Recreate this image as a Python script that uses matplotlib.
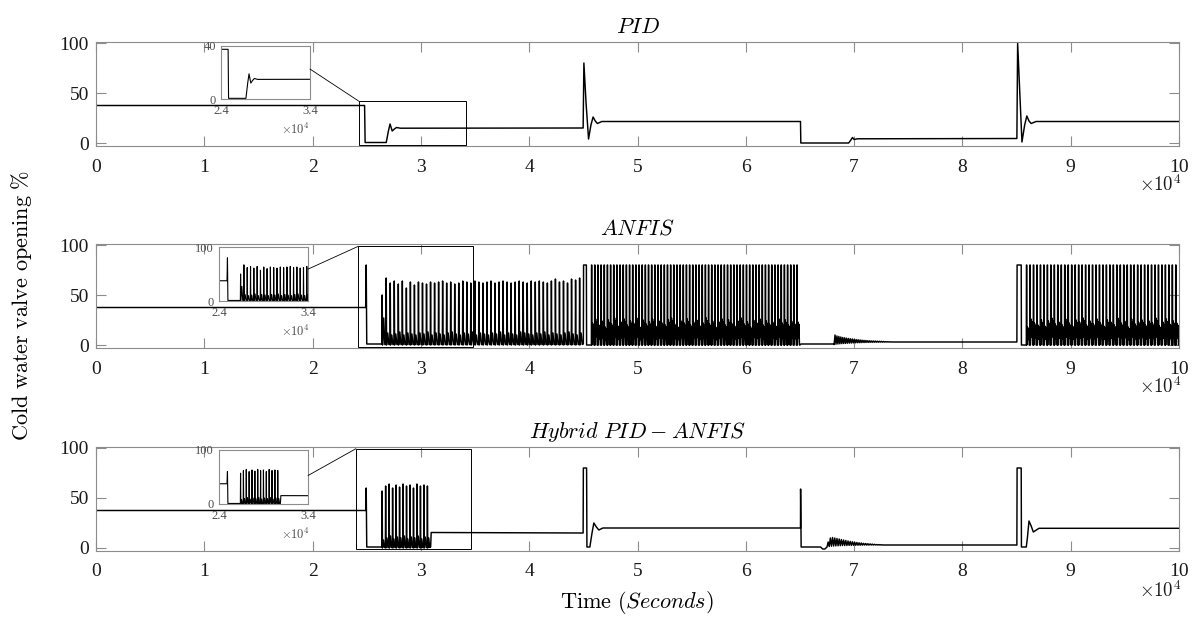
import numpy as np
import matplotlib
matplotlib.use('Agg')
import matplotlib.pyplot as plt
from matplotlib.patches import Rectangle, ConnectionPatch

plt.rcParams['mathtext.fontset'] = 'cm'
plt.rcParams['font.family'] = ['Liberation Serif', 'DejaVu Serif']

# ---------------- data ----------------
x_ticks = [0, 1e4, 2e4, 3e4, 4e4, 5e4, 6e4, 7e4, 8e4, 9e4, 1e5]
x_tick_labels = ['0', '1', '2', '3', '4', '5', '6', '7', '8', '9', '10']
y_ticks = [0, 50, 100]
titles = [r'$PID$', r'$ANFIS$', r'$Hybrid\ PID-ANFIS$']

# PID response (breakpoints)
pid_t = [0, 24800, 24850, 26800, 27000, 27150, 27350, 27550, 27750, 28100,
         44980, 45050, 45250, 45480, 45700, 45900, 46100, 46300, 46700,
         65050, 65080, 69500, 69700, 69850, 70000, 70300,
         85030, 85100, 85300, 85500, 85750, 85950, 86150, 86350, 86800, 100000]
pid_v = [37.5, 37.5, 0.5, 0.5, 12, 19, 12, 14, 15.5, 14.8,
         15, 80, 40, 4, 18, 26, 22, 19.5, 21.5,
         21.5, 0, 0, 3, 5.5, 3.5, 4.2,
         4.5, 100, 50, 1, 18, 27, 22, 19.5, 21.5, 21.5]

# ANFIS response
anfis_pre_t = [0, 24900, 24950, 25000, 26400]
anfis_pre_v = [37.5, 37.5, 80, 1, 1]
anfis_r1_span = [26400, 45000]
anfis_r1_peaks = [50, 67, 62, 64, 61, 64, 57, 63, 60, 63,
                  62, 61, 63, 62, 63, 64, 62, 63, 61, 62,
                  64, 63, 62, 64, 63, 62, 63, 64, 62, 63,
                  64, 63, 62, 63, 64, 63, 62, 64, 63, 64,
                  63, 62, 64, 66, 63, 64, 62, 66, 65, 67]
anfis_r1_sec = [27, 12, 10, 11, 13, 10, 12, 11, 10, 12,
                11, 13, 10, 12, 11, 10, 12, 13, 11, 10,
                12, 11, 13, 10, 12, 11, 10, 12, 11, 13,
                10, 12, 11, 10, 13, 12, 11, 10, 12, 11,
                13, 10, 12, 11, 10, 12, 13, 11, 10, 12]
anfis_mid1_t = [45000, 45020, 45280, 45300, 45740]
anfis_mid1_v = [1, 80, 80, 0, 0]
anfis_sat = 80
anfis_r2_span = [45740, 65000]
anfis_r2_sec = [22, 26, 20, 24, 18, 25, 21, 27, 19, 23, 26,
                20, 24, 22, 27, 18, 25, 21, 23, 26, 19, 24,
                22, 20, 25, 27, 21, 18, 24, 22, 26, 20, 23,
                25, 19, 22, 27, 21, 24, 18, 23, 26, 20, 25,
                22, 19, 24, 27, 21, 23, 18, 25, 22, 26, 20,
                24, 21, 23, 19, 26, 22, 25, 20, 24, 21, 23]
anfis_mid2_t = [65000, 65100, 68150]
anfis_mid2_v = [0, 1, 1]
anfis_ring_span = [68150, 73500]
anfis_ring_peaks = [10, 9, 8.5, 8, 7.5, 7.2, 6.8, 6.5, 6.2, 6, 5.7, 5.4, 5.2, 5, 4.8,
                    4.6, 4.5, 4.3, 4.2, 4.1, 4, 3.9, 3.8, 3.7, 3.6, 3.5, 3.4, 3.3, 3.2, 3.1]
anfis_ring_troughs = [0.5, 0.8, 1, 1.2, 1.4, 1.5, 1.6, 1.8, 1.9, 2, 2.1, 2.2, 2.3, 2.3, 2.4,
                      2.5, 2.5, 2.6, 2.6, 2.7, 2.7, 2.8, 2.8, 2.8, 2.9, 2.9, 2.9, 3, 3, 3]
anfis_mid3_t = [73500, 85030, 85050, 85430, 85450, 85900]
anfis_mid3_v = [3, 3, 80, 80, 0, 0]
anfis_r3_span = [85900, 100000]
anfis_r3_sec = [18, 26, 22, 20, 25, 19, 24, 27, 21, 23, 20,
                26, 22, 19, 25, 23, 27, 20, 24, 21, 26, 22,
                19, 25, 23, 20, 27, 22, 24, 18, 26, 21, 23,
                25, 20, 24, 22, 27, 19, 23, 26, 21, 24, 22]

# Hybrid PID-ANFIS response
hyb_pre_t = [0, 24900, 24950, 25000, 26400]
hyb_pre_v = [37.5, 37.5, 60, 1, 1]
hyb_osc_span = [26400, 30900]
hyb_peaks = [57, 62, 64, 60, 63, 61, 64, 62, 63, 60, 64, 62, 63, 62]
hyb_sec = [8, 10, 12, 9, 11, 10, 12, 9, 11, 10, 12, 9, 11, 10]
hyb_mid_t = [30900, 30950, 44980, 45000, 45300, 45330, 45600, 45800, 45970, 46200,
             46430, 46800, 65050, 65060, 65110, 66900, 67100, 67300, 67500]
hyb_mid_v = [1, 15.5, 15, 80, 80, 1, 1, 15, 25, 21,
             18, 20, 20, 59, 1, 1, -1, -1, 1]
hyb_ring_span = [67500, 72600]
hyb_ring_peaks = [6, 10, 10.5, 10, 9.5, 9, 8.5, 8, 7.5, 7, 6.6, 6.2, 5.8, 5.5, 5.2,
                  5, 4.7, 4.5, 4.3, 4.1, 3.9, 3.7, 3.5, 3.4, 3.3]
hyb_ring_troughs = [1, 1.5, 1.8, 2, 2.1, 2.2, 2.3, 2.4, 2.5, 2.5, 2.6, 2.6, 2.7, 2.7, 2.8,
                    2.8, 2.8, 2.9, 2.9, 2.9, 3, 3, 3, 3, 3]
hyb_post_t = [72600, 85030, 85050, 85430, 85450, 85900, 86000, 86150, 86350, 86550, 87070, 100000]
hyb_post_v = [3, 3, 80, 80, 1, 1, 10, 27, 22, 16, 19.7, 19.7]

# zoom windows (rectangle in main axes, inset limits)
rect_x = [(24300, 34200), (24200, 34800), (24000, 34600)]
rect_y = [(-2.4, 41.6), (-2, 98.6), (-1, 99.3)]
inset_ylim = [(0, 40), (0, 100), (0, 100)]
inset_xlim = (24000, 34000)

# ---------------- helpers ----------------
SHAPE_SPIKE = [(0.0, 0, 0, 0.5), (0.07, 1, 0, 0), (0.16, 0, 0, 0), (0.45, 0, 1, 0), (0.72, 0, 0, 0.5)]
SHAPE_SAT = [(0.0, 0, 0, 0), (0.05, 1, 0, 0), (0.12, 1, 0, 0), (0.17, 0, 0, 0),
             (0.35, 0, 1, 0), (0.5, 0, 0.3, 0), (0.68, 0, 0.9, 0), (0.85, 0, 0, 0)]


def cycles(span, peaks, secs, shape):
    t0, t1 = span
    n = len(peaks)
    P = (t1 - t0) / n
    ts, vs = [], []
    for i, (p, s) in enumerate(zip(peaks, secs)):
        for f, wp, ws, c in shape:
            ts.append(t0 + (i + f) * P)
            vs.append(wp * p + ws * s + c)
    return ts, vs


def ring(span, peaks, troughs):
    t0, t1 = span
    n = len(peaks)
    P = (t1 - t0) / n
    ts, vs = [], []
    for i, (p, q) in enumerate(zip(peaks, troughs)):
        ts += [t0 + i * P, t0 + (i + 0.5) * P]
        vs += [q, p]
    return ts, vs


def concat(*pieces):
    T, V = [], []
    for t, v in pieces:
        T += list(t)
        V += list(v)
    return np.array(T), np.array(V)


pid = (np.array(pid_t), np.array(pid_v))
anfis = concat((anfis_pre_t, anfis_pre_v),
               cycles(anfis_r1_span, anfis_r1_peaks, anfis_r1_sec, SHAPE_SPIKE),
               (anfis_mid1_t, anfis_mid1_v),
               cycles(anfis_r2_span, [anfis_sat] * len(anfis_r2_sec), anfis_r2_sec, SHAPE_SAT),
               (anfis_mid2_t, anfis_mid2_v),
               ring(anfis_ring_span, anfis_ring_peaks, anfis_ring_troughs),
               (anfis_mid3_t, anfis_mid3_v),
               cycles(anfis_r3_span, [anfis_sat] * len(anfis_r3_sec), anfis_r3_sec, SHAPE_SAT),
               ([100000], [0]))
hyb = concat((hyb_pre_t, hyb_pre_v),
             cycles(hyb_osc_span, hyb_peaks, hyb_sec, SHAPE_SPIKE),
             (hyb_mid_t, hyb_mid_v),
             ring(hyb_ring_span, hyb_ring_peaks, hyb_ring_troughs),
             (hyb_post_t, hyb_post_v))
series = [pid, anfis, hyb]

# ---------------- figure ----------------
W, H = 1194, 633
fig = plt.figure(figsize=(W / 100, H / 100), dpi=100)


def px_axes(x0, y0, x1, y1):
    return fig.add_axes([x0 / W, 1 - y1 / H, (x1 - x0) / W, (y1 - y0) / H])


main_box = [(96, 42, 1179, 146), (96, 244, 1179, 348), (96, 447, 1179, 551)]
inset_box = [(221, 46, 310, 99), (219, 247, 308, 301), (219, 450, 308, 504)]
con_frac = [0.565, 0.59, 0.527]
off_y = [185, 387, 591]
ins_off_y = [129, 331, 534]
SP = '0.55'

for k in range(3):
    ax = px_axes(*main_box[k])
    t, v = series[k]
    ax.plot(t, v, color='k', lw=1.05)
    ax.set_xlim(0, 1e5)
    ax.set_ylim(-3, 101)
    ax.set_xticks(x_ticks)
    ax.set_xticklabels(x_tick_labels)
    ax.set_yticks(y_ticks)
    ax.tick_params(direction='in', length=7, width=0.8, top=True, right=True,
                   color=SP, labelcolor='0.1', labelsize=14)
    ax.tick_params(axis='x', pad=9)
    ax.tick_params(axis='y', pad=5)
    for s in ax.spines.values():
        s.set_color(SP)
        s.set_linewidth(0.8)
    ax.set_title(titles[k], fontsize=16, pad=6.5)
    rx0, rx1 = rect_x[k]
    ry0, ry1 = rect_y[k]
    ax.add_patch(Rectangle((rx0, ry0), rx1 - rx0, ry1 - ry0, fill=False,
                           ec='k', lw=0.7, zorder=3))
    fig.text(1181 / W, 1 - off_y[k] / H, r'$\times10^{4}$', fontsize=13.5,
             ha='right', va='center', color='0.1')

    ins = px_axes(*inset_box[k])
    ins.plot(t, v, color='k', lw=0.8)
    ins.set_xlim(*inset_xlim)
    ins.set_ylim(*inset_ylim[k])
    ins.set_xticks(list(inset_xlim))
    ins.set_xticklabels(['2.4', '3.4'])
    ins.set_yticks(list(inset_ylim[k]))
    ins.set_yticklabels([str(inset_ylim[k][0]), str(inset_ylim[k][1])])
    ins.tick_params(direction='in', length=3, width=0.6, top=True, right=True,
                    color=SP, labelcolor='0.3', labelsize=9)
    ins.tick_params(axis='x', pad=4.5)
    ins.tick_params(axis='y', pad=3.5)
    for s in ins.spines.values():
        s.set_color(SP)
        s.set_linewidth(0.8)
    fig.text(295 / W, 1 - ins_off_y[k] / H, r'$\times10^{4}$', fontsize=9,
             ha='center', va='center', color='0.3')
    con = ConnectionPatch(xyA=(1.0, con_frac[k]), coordsA=ins.transAxes,
                          xyB=(rx0, ry1), coordsB=ax.transData,
                          color='k', lw=0.6)
    fig.add_artist(con)

fig.text(22 / W, 1 - 305 / H, r'$\mathrm{Cold\ water\ valve\ opening\ \%}$',
         rotation=90, fontsize=16, ha='center', va='center')
fig.text(637 / W, 1 - 603 / H, r'$\mathrm{Time\ }(Seconds)$',
         fontsize=16, ha='center', va='center')

fig.savefig('out.png', dpi=100)
